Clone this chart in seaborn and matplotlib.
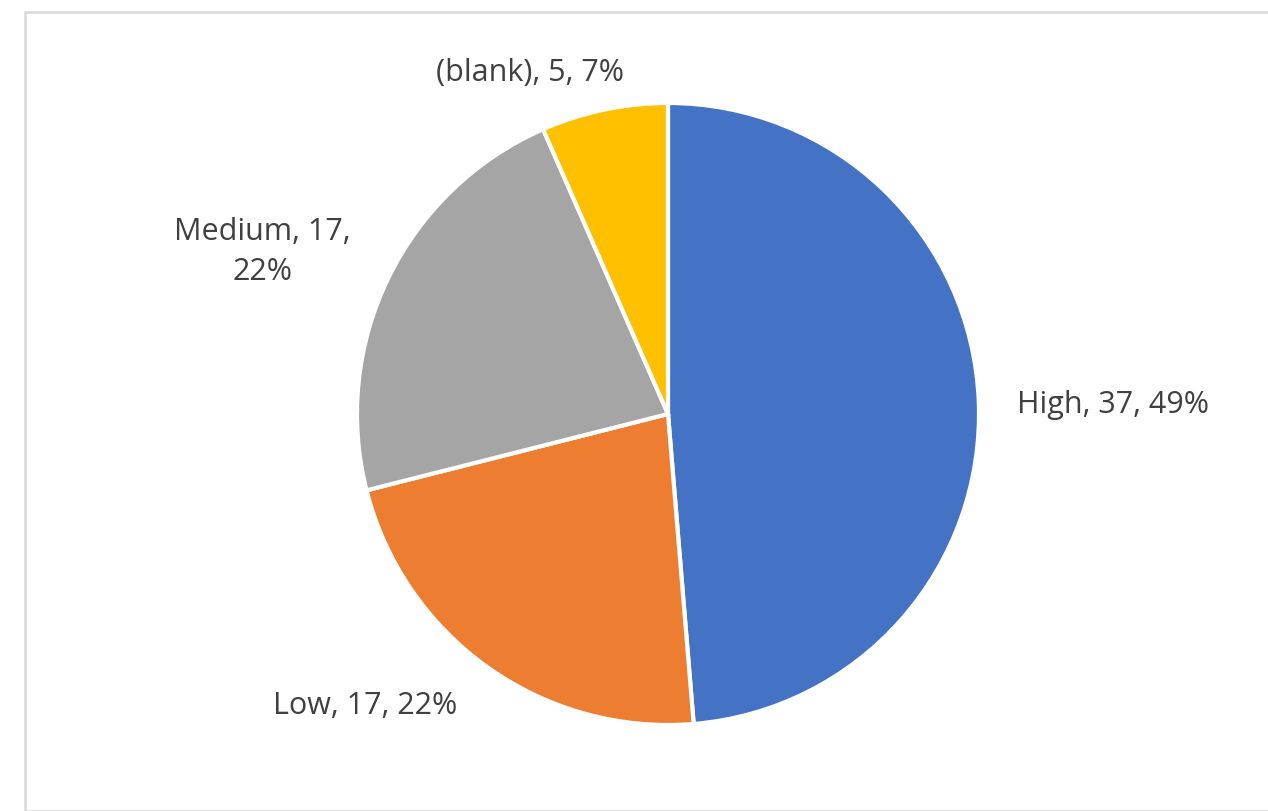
import matplotlib
matplotlib.use("Agg")
import matplotlib.pyplot as plt
import matplotlib.patches as mpatches
import seaborn as sns

sns.set_theme(style="white")
plt.rcParams['font.family'] = ['Open Sans', 'DejaVu Sans']

# data
categories = ["High", "Low", "Medium", "(blank)"]
counts = [37, 17, 17, 5]
colors = ["#4472C4", "#ED7D31", "#A5A5A5", "#FFC000"]

# label placement (axes data units, pie radius = 1)
label_pos = [(1.43, 0.03), (-0.975, -0.94), (-1.305, 0.52), (-0.445, 1.095)]

fig = plt.figure(figsize=(12.68, 8.11), dpi=100)

# chart area frame
frame = mpatches.Rectangle((25 / 1268, 0), 1.2, 1 - 12 / 811, transform=fig.transFigure,
                           fill=False, edgecolor="#D9D9D9", linewidth=1.8, clip_on=False)
fig.patches.append(frame)

r = 311
ax = fig.add_axes([(668 - r) / 1268, 1 - (414 + r) / 811, 2 * r / 1268, 2 * r / 811])
wedges, _ = ax.pie(counts, colors=colors, startangle=90, counterclock=False,
                   wedgeprops=dict(edgecolor="white", linewidth=3))
ax.set_xlim(-1, 1)
ax.set_ylim(-1, 1)
ax.set_aspect("equal")

total = sum(counts)
for cat, n, (x, y) in zip(categories, counts, label_pos):
    pct = round(100 * n / total)
    txt = f"{cat}, {n}, {pct}%"
    if cat == "Medium":
        txt = f"{cat}, {n},\n{pct}%"
    ax.text(x, y, txt, ha="center", va="center", fontsize=22, color="#404040",
            linespacing=1.45, clip_on=False)

fig.savefig("out.png", dpi=100)
